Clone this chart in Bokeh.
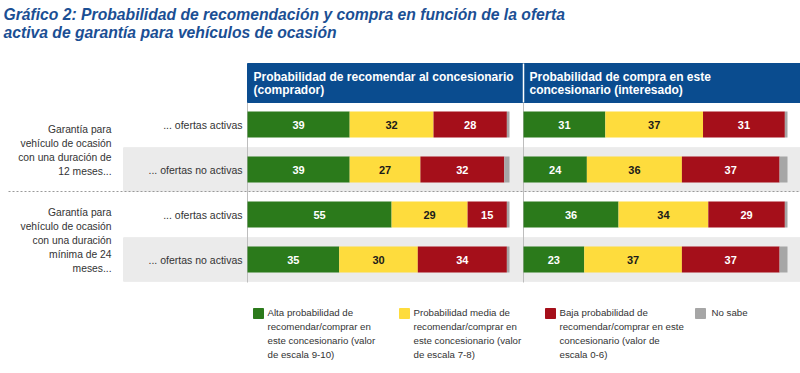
from bokeh.plotting import figure
from bokeh.models import Range1d, ColumnDataSource
from bokeh.embed import file_html
from bokeh.resources import INLINE
from bokeh.core.properties import value

# ---------------- data ----------------
title_lines = ["Gráfico 2: Probabilidad de recomendación y compra en función de la oferta",
               "activa de garantía para vehículos de ocasión"]
panel_titles = [["Probabilidad de recomendar al concesionario", "(comprador)"],
                ["Probabilidad de compra en este", "concesionario (interesado)"]]
group_labels = [["Garantía para", "vehículo de ocasión", "con una duración de", "12 meses..."],
                ["Garantía para", "vehículo de ocasión", "con una duración", "mínima de 24", "meses..."]]
row_labels = ["... ofertas activas", "... ofertas no activas",
              "... ofertas activas", "... ofertas no activas"]
segments = ["alta", "media", "baja", "nosabe"]
legend_labels = [["Alta probabilidad de", "recomendar/comprar en", "este concesionario (valor", "de escala 9-10)"],
                 ["Probabilidad media de", "recomendar/comprar en", "este concesionario (valor", "de escala 7-8)"],
                 ["Baja probabilidad de", "recomendar/comprar en este", "concesionario (valor de", "escala 0-6)"],
                 ["No sabe"]]

rec_alta = [39, 39, 55, 35]
rec_media = [32, 27, 29, 30]
rec_baja = [28, 32, 15, 34]
rec_nosabe = [1, 2, 1, 1]

buy_alta = [31, 24, 36, 23]
buy_media = [37, 36, 34, 37]
buy_baja = [31, 37, 29, 37]
buy_nosabe = [1, 3, 1, 3]

# ---------------- styles ----------------
COLORS = ["#2B7A1B", "#FEDC3D", "#A50F1A", "#A6A6A6"]
LABEL_COLORS = ["white", "#1A1A1A", "white"]
BLUE = "#0A4C8F"
TITLE_BLUE = "#1B4F94"
BAND = "#EBEBEB"
TXT = "#333333"
FONT = value("Liberation Sans")

W, H = 800, 373
P1_X0, P1_SCALE = 247, 2.62
P2_X0, P2_SCALE = 523, 2.64
ROW0, ROW_STEP = 124, 45

p = figure(width=W, height=H, x_range=Range1d(0, W), y_range=Range1d(H, 0),
           output_backend="svg", toolbar_location=None,
           x_axis_type=None, y_axis_type=None, min_border=0,
           outline_line_color=None, background_fill_color="white",
           border_fill_color="white")
p.grid.visible = False
p.extra_x_ranges = {
    "rec": Range1d(-P1_X0 / P1_SCALE, (W - P1_X0) / P1_SCALE),
    "buy": Range1d(-P2_X0 / P2_SCALE, (W - P2_X0) / P2_SCALE),
}
p.extra_y_ranges = {"rows": Range1d((H - ROW0) / ROW_STEP, -ROW0 / ROW_STEP)}

rows = list(range(len(row_labels)))

# background bands for the "no activas" rows
band_rows = [i for i, r in enumerate(row_labels) if "no activas" in r]
p.hbar(y=band_rows, height=0.97, left=123, right=W, color=BAND, y_range_name="rows")

# dashed separator between groups
p.segment(x0=[8], x1=[W], y0=[191], y1=[191], line_color="#9A9A9A",
          line_dash="2 2", line_width=1)

# panel vertical lines
p.segment(x0=[P1_X0, P2_X0], x1=[P1_X0, P2_X0], y0=[102, 102], y1=[282, 282],
          line_color="#BDBDBD", line_width=1)

# header band
p.quad(left=[P1_X0], right=[W], top=[63], bottom=[102], color=BLUE)
p.segment(x0=[P2_X0], x1=[P2_X0], y0=[63], y1=[102], line_color="white", line_width=1.5)
for x0, lines in zip([P1_X0 + 6, P2_X0 + 6], panel_titles):
    p.text(x=[x0] * len(lines), y=[76 + 13 * k for k in range(len(lines))], text=lines,
           text_color="white", text_font=FONT, text_font_style="bold",
           text_font_size="12px", text_baseline="middle", text_align="left")

# stacked bars
def draw_panel(rname, alta, media, baja, nosabe):
    src = ColumnDataSource(dict(y=rows, alta=alta, media=media, baja=baja, nosabe=nosabe))
    p.hbar_stack(segments, y="y", height=26 / ROW_STEP, color=COLORS, source=src,
                 x_range_name=rname, y_range_name="rows", line_color=None)
    xs, ys, ts, cs = [], [], [], []
    for i in rows:
        cum = 0
        for k, v in enumerate([alta[i], media[i], baja[i]]):
            xs.append(cum + v / 2)
            ys.append(i)
            ts.append(str(v))
            cs.append(LABEL_COLORS[k])
            cum += v
    p.text(x=xs, y=ys, text=ts, text_color=cs, x_range_name=rname, y_range_name="rows",
           text_font=FONT, text_font_style="bold", text_font_size="11px",
           text_align="center", text_baseline="middle")

draw_panel("rec", rec_alta, rec_media, rec_baja, rec_nosabe)
draw_panel("buy", buy_alta, buy_media, buy_baja, buy_nosabe)

# row labels
p.text(x=[242] * len(rows), y=rows, text=row_labels, y_range_name="rows",
       text_color=TXT, text_font=FONT, text_font_size="10.5px",
       text_align="right", text_baseline="middle")

# group labels
for g, lines in enumerate(group_labels):
    yc = ROW0 + ROW_STEP * (2 * g + 0.5) + 3
    n = len(lines)
    p.text(x=[111] * n, y=[yc + (k - (n - 1) / 2) * 14 for k in range(n)], text=lines,
           text_color=TXT, text_font=FONT, text_font_size="10.3px",
           text_align="right", text_baseline="middle")

# title
p.text(x=[3, 3], y=[14, 32], text=title_lines, text_color=TITLE_BLUE, text_font=FONT,
       text_font_style="bold italic", text_font_size="15.7px",
       text_align="left", text_baseline="middle")

# legend
leg_sq_x = [253, 399, 545, 695]
leg_tx_x = [267, 413, 559, 711]
for k, lines in enumerate(legend_labels):
    p.quad(left=[leg_sq_x[k]], right=[leg_sq_x[k] + 10], top=[308], bottom=[318], color=COLORS[k])
    p.text(x=[leg_tx_x[k]] * len(lines), y=[312 + 14 * j for j in range(len(lines))], text=lines,
           text_color=TXT, text_font=FONT, text_font_size="9.7px",
           text_align="left", text_baseline="middle")

open("out.html", "w").write(file_html(p, INLINE))
